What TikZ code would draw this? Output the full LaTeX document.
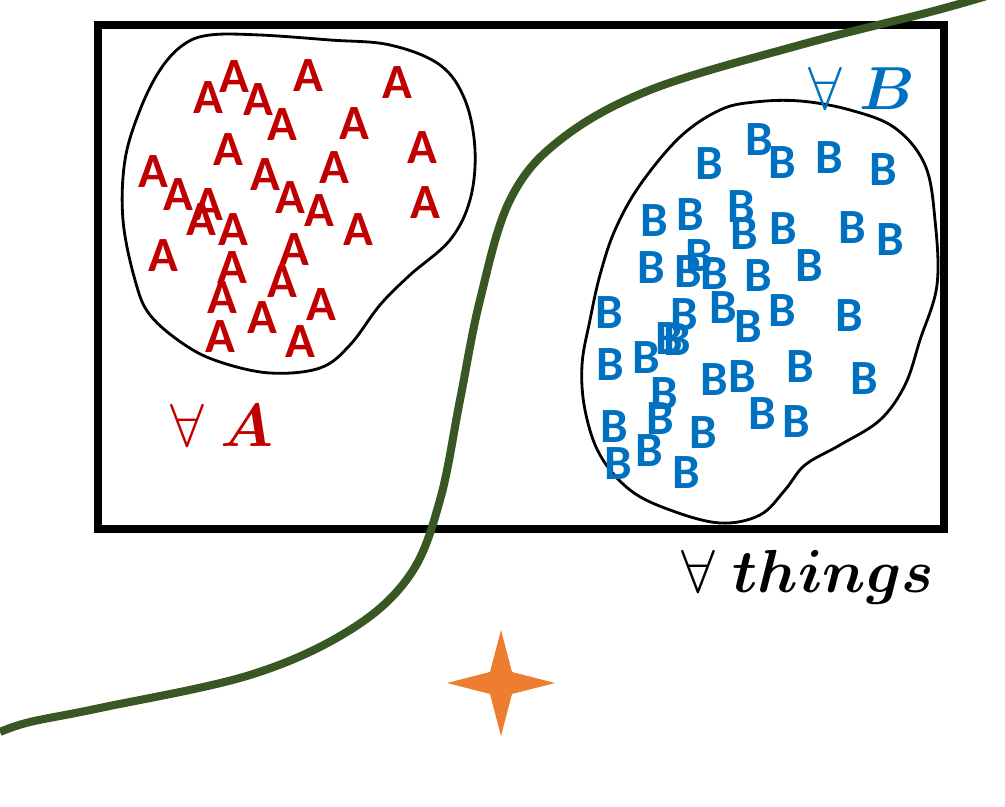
\documentclass[tikz,border=0pt]{standalone}
\usepackage{fontspec}
\usepackage{amsmath, amssymb}
\setsansfont{Carlito}
\usetikzlibrary{calc}
\definecolor{redA}{HTML}{C00000}
\definecolor{blueB}{HTML}{0070C0}
\definecolor{curvegreen}{HTML}{385723}
\definecolor{starorange}{HTML}{ED7D31}

\begin{document}
\begin{tikzpicture}[x=0.01cm, y=-0.01cm,
        letter_style/.style={font=\sffamily\bfseries\fontsize{14}{14}\selectfont, inner sep=0pt},
        a_style/.style={letter_style, text=redA},
        b_style/.style={letter_style, text=blueB},
        blob_style/.style={draw=black, line width=0.8pt},
        label_style/.style={font=\fontsize{16}{16}\selectfont, inner sep=0pt}]
        \useasboundingbox (0,0) rectangle (1005,807);

        % the frame
        \node [draw, line width=2.3pt, minimum width=8.46cm, minimum height=5.04cm, anchor=center] (frame) at (521,277) {};

        % the two blobs
        \draw [blob_style] plot [smooth cycle, tension=0.6] coordinates {(183,45) (210,35) (260,35) (330,40) (390,45) (440,65) (465,100) (475,150) (470,200) (450,240) (410,275) (380,305) (350,345) (320,368) (270,373) (220,362) (185,345) (150,315) (135,280) (123,220) (125,160) (140,110) (160,70)};
        \draw [blob_style] plot [smooth cycle, tension=0.6] coordinates {(755,102) (800,101) (850,110) (895,128) (925,165) (935,220) (937,285) (920,340) (905,385) (880,420) (840,445) (805,465) (785,490) (760,515) (720,523) (670,510) (630,490) (600,455) (585,410) (582,365) (590,320) (600,275) (615,230) (640,185) (680,137) (720,110)};

        % the letters
        \foreach \x/\y [count=\i] in {234/77,308/76,397/83,208/98,258/100,282/125,354/124,228/150,422/148,153/172,265/175,334/168,178/195,290/198,208/205,201/220,319/211,425/203,233/230,358/230,163/256,294/250,232/268,282/282,222/298,321/305,262/318,220/337,300/342}
            \node [a_style] (a\i) at (\x,\y) {A};
        \foreach \x/\y [count=\i] in {759/140,709/164,782/163,829/158,883/170,741/207,654/221,690/215,744/234,783/229,852/228,890/240,699/256,651/268,688/272,714/274,758/276,809/266,609/313,684/315,723/308,748/327,782/311,849/316,669/339,677/340,610/365,646/358,664/394,714/380,742/377,800/367,864/379,614/427,660/419,703/433,762/414,796/422,618/464,649/451,686/473}
            \node [b_style] (b\i) at (\x,\y) {B};

        % the labels
        \node [label_style, text=redA] (forallA) at (222,425) {$\forall\ \boldsymbol{A}$};
        \node [label_style, text=blueB] (forallB) at (862,88) {$\forall\ \boldsymbol{B}$};
        \node [label_style] (forallthings) at (808,577) {$\forall\ \boldsymbol{things}$};

        % the green line
        \draw [curvegreen, line width=2.3pt] plot [smooth, tension=0.6] coordinates {(0,732) (30,722) (100,708) (250,675) (350,630) (410,575) (440,500) (460,400) (480,300) (510,200) (560,140) (650,90) (800,45) (930,12) (990,-5)};

        % the star
        \coordinate (star) at (501,683);
        \fill [starorange] (501,630) -- (512,672) -- (555,683) -- (512,694) -- (501,736) -- (490,694) -- (447,683) -- (490,672) -- cycle;
\end{tikzpicture}
\end{document}
